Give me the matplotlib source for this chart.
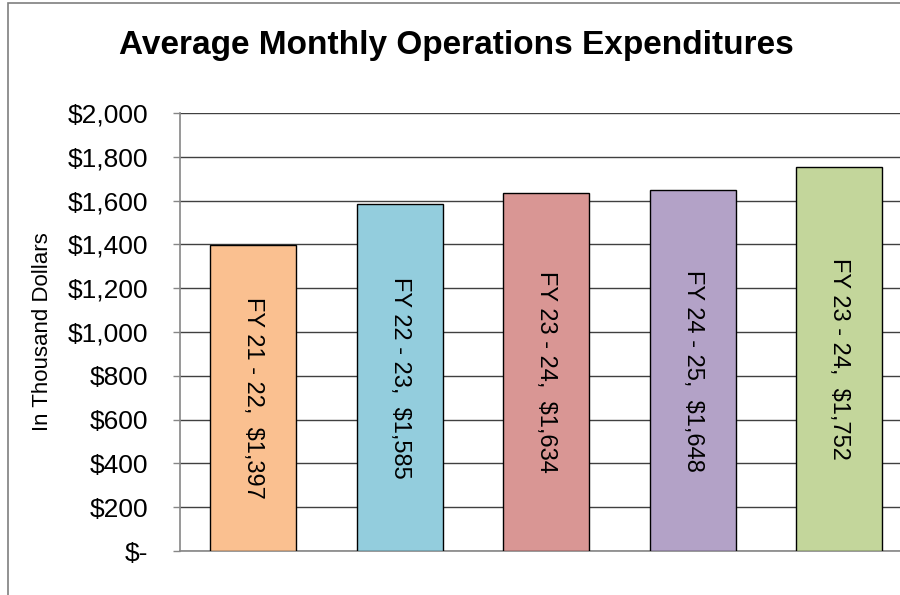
"""Average monthly operations expenditures bar chart."""

import matplotlib

matplotlib.use("Agg")
import matplotlib.pyplot as plt
from matplotlib.patches import Rectangle

fiscal_years = ["FY 21 - 22", "FY 22 - 23", "FY 23 - 24", "FY 24 - 25", "FY 23 - 24"]
expenditures = [1397, 1585, 1634, 1648, 1752]
bar_colors = ["#FAC090", "#93CDDD", "#D99694", "#B3A2C7", "#C3D69B"]
y_ticks = [0, 200, 400, 600, 800, 1000, 1200, 1400, 1600, 1800, 2000]
y_tick_labels = ["$-", "$200", "$400", "$600", "$800", "$1,000", "$1,200",
                 "$1,400", "$1,600", "$1,800", "$2,000"]

plt.rcParams["font.family"] = ["Liberation Sans", "DejaVu Sans"]

fig = plt.figure(figsize=(9.0, 5.95), dpi=100)
ax = fig.add_axes((0.2, 0.0739, 0.8139, 0.736))

# outer chart frame (only left/top visible in the crop)
fig.add_artist(Rectangle((8 / 900, -0.1), 1.2, 1.1 - 3 / 595, transform=fig.transFigure,
                         fill=False, edgecolor="#7f7f7f", linewidth=1.2, clip_on=False))

xs = range(len(expenditures))
ax.bar(xs, expenditures, width=0.59, color=bar_colors, edgecolor="black", linewidth=1.0, zorder=3)

for x, fy, val in zip(xs, fiscal_years, expenditures):
    ax.text(x, val / 2, f"{fy},  ${val:,}", rotation=-90, ha="center", va="center",
            fontsize=17, zorder=4)

ax.set_xlim(-0.5, len(expenditures) - 0.5)
ax.set_ylim(0, 2000)
ax.set_yticks(y_ticks)
ax.set_yticklabels(y_tick_labels, fontsize=19)
ax.set_xticks([])
ax.yaxis.grid(True, color="#404040", linewidth=1.0, zorder=0)
ax.tick_params(axis="y", length=5, width=1.0, color="#868686", pad=18)
for side in ("top", "right"):
    ax.spines[side].set_visible(False)
for side in ("left", "bottom"):
    ax.spines[side].set_color("#868686")
    ax.spines[side].set_linewidth(1.2)

ax.set_ylabel("In Thousand Dollars", fontsize=16)
ax.yaxis.set_label_coords(-0.174, 0.5)
fig.text(0.507, 0.924, "Average Monthly Operations Expenditures", ha="center", va="center",
         fontsize=24, fontweight="bold")

fig.savefig("out.png", dpi=100)
